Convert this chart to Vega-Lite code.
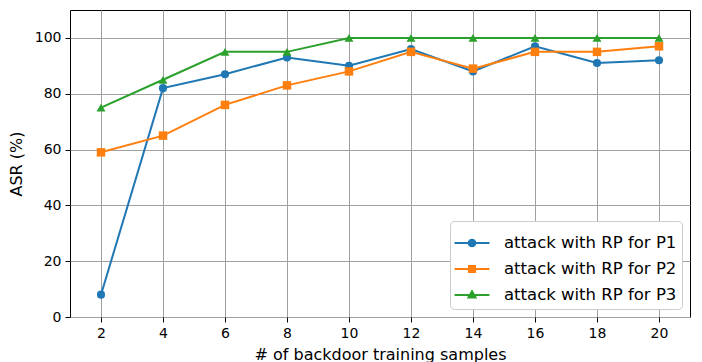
{
  "$schema": "https://vega.github.io/schema/vega-lite/v6.json",
  "width": 620,
  "height": 307,
  "autosize": {"type": "none"},
  "padding": {"left": 70, "top": 10, "right": 12, "bottom": 45},
  "background": "white",
  "config": {
    "font": "DejaVu Sans",
    "view": {"stroke": "black", "strokeWidth": 1},
    "axis": {
      "gridColor": "#a0a0a0",
      "gridOpacity": 1,
      "gridWidth": 1,
      "domain": false,
      "tickColor": "black",
      "tickSize": 5,
      "labelFontSize": 14,
      "labelColor": "black",
      "titleFontSize": 16,
      "titleFontWeight": "normal",
      "titleColor": "black"
    }
  },
  "data": {
    "values": [
      {"n": 2, "asr": 8, "series": "attack with RP for P1"},
      {"n": 4, "asr": 82, "series": "attack with RP for P1"},
      {"n": 6, "asr": 87, "series": "attack with RP for P1"},
      {"n": 8, "asr": 93, "series": "attack with RP for P1"},
      {"n": 10, "asr": 90, "series": "attack with RP for P1"},
      {"n": 12, "asr": 96, "series": "attack with RP for P1"},
      {"n": 14, "asr": 88, "series": "attack with RP for P1"},
      {"n": 16, "asr": 97, "series": "attack with RP for P1"},
      {"n": 18, "asr": 91, "series": "attack with RP for P1"},
      {"n": 20, "asr": 92, "series": "attack with RP for P1"},
      {"n": 2, "asr": 59, "series": "attack with RP for P2"},
      {"n": 4, "asr": 65, "series": "attack with RP for P2"},
      {"n": 6, "asr": 76, "series": "attack with RP for P2"},
      {"n": 8, "asr": 83, "series": "attack with RP for P2"},
      {"n": 10, "asr": 88, "series": "attack with RP for P2"},
      {"n": 12, "asr": 95, "series": "attack with RP for P2"},
      {"n": 14, "asr": 89, "series": "attack with RP for P2"},
      {"n": 16, "asr": 95, "series": "attack with RP for P2"},
      {"n": 18, "asr": 95, "series": "attack with RP for P2"},
      {"n": 20, "asr": 97, "series": "attack with RP for P2"},
      {"n": 2, "asr": 75, "series": "attack with RP for P3"},
      {"n": 4, "asr": 85, "series": "attack with RP for P3"},
      {"n": 6, "asr": 95, "series": "attack with RP for P3"},
      {"n": 8, "asr": 95, "series": "attack with RP for P3"},
      {"n": 10, "asr": 100, "series": "attack with RP for P3"},
      {"n": 12, "asr": 100, "series": "attack with RP for P3"},
      {"n": 14, "asr": 100, "series": "attack with RP for P3"},
      {"n": 16, "asr": 100, "series": "attack with RP for P3"},
      {"n": 18, "asr": 100, "series": "attack with RP for P3"},
      {"n": 20, "asr": 100, "series": "attack with RP for P3"}
    ]
  },
  "encoding": {
    "x": {
      "field": "n", "type": "quantitative",
      "scale": {"domain": [1, 21], "nice": false, "zero": false},
      "axis": {"values": [2, 4, 6, 8, 10, 12, 14, 16, 18, 20], "title": "# of backdoor training samples", "titlePadding": 6, "labelPadding": 4}
    },
    "y": {
      "field": "asr", "type": "quantitative",
      "scale": {"domain": [0, 110], "nice": false},
      "axis": {"values": [0, 20, 40, 60, 80, 100], "title": "ASR (%)", "titlePadding": 10, "labelPadding": 4}
    },
    "color": {
      "field": "series", "type": "nominal",
      "scale": {"domain": ["attack with RP for P1", "attack with RP for P2", "attack with RP for P3"], "range": ["#1f77b4", "#ff7f0e", "#2ca02c"]},
      "legend": {
        "title": null,
        "orient": "bottom-right",
        "offset": 8,
        "fillColor": "white",
        "strokeColor": "#cccccc",
        "cornerRadius": 4,
        "padding": 5,
        "labelFontSize": 16.5,
        "labelColor": "black",
        "labelLimit": 0,
        "labelOffset": 15,
        "rowPadding": 0,
        "symbolSize": 1024,
        "encode": {
          "symbols": {
            "update": {
              "shape": {"signal": "datum.value === 'attack with RP for P1' ? 'M-1.09,0H1.09M0.21,0A0.21,0.21 0 1 1 -0.21,0A0.21,0.21 0 1 1 0.21,0Z' : datum.value === 'attack with RP for P2' ? 'M-1.09,0H1.09M-0.19,-0.19H0.19V0.19H-0.19Z' : 'M-1.09,0H1.09M0,-0.23L0.22,0.15H-0.22Z'"},
              "fill": {"scale": "color", "field": "value"},
              "stroke": {"scale": "color", "field": "value"},
              "strokeWidth": {"value": 2},
              "opacity": {"value": 1}
            }
          }
        }
      }
    }
  },
  "layer": [
    {
      "mark": {"type": "line", "strokeWidth": 2}
    },
    {
      "transform": [{"filter": "datum.series === 'attack with RP for P1'"}],
      "mark": {"type": "point", "filled": true, "opacity": 1, "size": 66, "shape": "circle"}
    },
    {
      "transform": [{"filter": "datum.series === 'attack with RP for P2'"}],
      "mark": {"type": "point", "filled": true, "opacity": 1, "size": 72, "shape": "square"}
    },
    {
      "transform": [{"filter": "datum.series === 'attack with RP for P3'"}],
      "mark": {"type": "point", "filled": true, "opacity": 1, "size": 80, "shape": "triangle-up"}
    }
  ]
}
